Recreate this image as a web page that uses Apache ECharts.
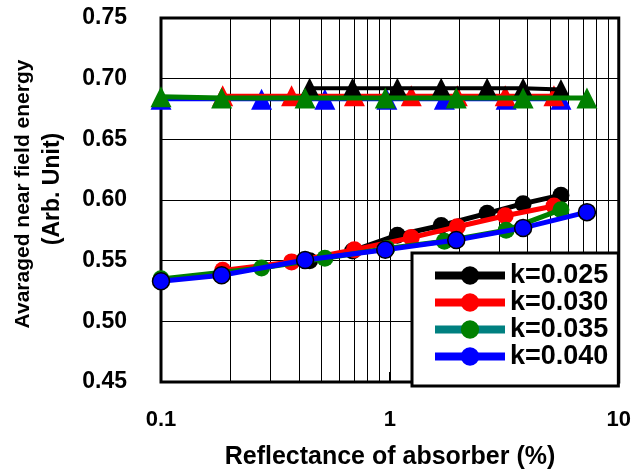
<!DOCTYPE html>
<html><head><meta charset="utf-8">
<script src="https://cdn.jsdelivr.net/npm/echarts@6/dist/echarts.min.js"></script>
<style>html,body{margin:0;padding:0;background:#fff}#c{width:634px;height:469px}</style>
</head><body><div id="c"></div>
<script>
// ---- data ----
const seriesNames = ['k=0.025', 'k=0.030', 'k=0.035', 'k=0.040'];
const xTickLabels = ['0.1', '1', '10'];
const yTickValues = [0.45, 0.50, 0.55, 0.60, 0.65, 0.70, 0.75];

// lower (circle) curves
const xK025 = [0.446, 0.687, 1.078, 1.676, 2.66, 3.82, 5.59];
const lowK025 = [0.550, 0.558, 0.571, 0.579, 0.589, 0.597, 0.604];
const xK030 = [0.186, 0.372, 0.70, 1.24, 1.97, 3.19, 5.21];
const lowK030 = [0.542, 0.549, 0.559, 0.569, 0.578, 0.587, 0.595];
const xK035 = [0.1, 0.275, 0.52, 0.97, 1.73, 3.22, 5.59];
const lowK035 = [0.535, 0.544, 0.552, 0.560, 0.566, 0.575, 0.592];
const xK040 = [0.1, 0.184, 0.426, 0.955, 1.95, 3.82, 7.26];
const lowK040 = [0.533, 0.538, 0.5505, 0.559, 0.567, 0.577, 0.590];

// upper (triangle) curves, as coloured in the reference
const highBlack = [0.692, 0.692, 0.692, 0.692, 0.692, 0.692, 0.691];
const highRed = [0.686, 0.686, 0.686, 0.686, 0.686, 0.686, 0.686];
const xGreenTri = xK040;
const highGreen = [0.685, 0.684, 0.684, 0.684, 0.684, 0.684, 0.684];
const xBlueTri = xK035;
const highBlue = [0.683, 0.683, 0.683, 0.683, 0.683, 0.683, 0.683];

const minorGridX = [0.2, 0.3, 0.4, 0.5, 0.6, 0.7, 0.8, 0.9, 2, 3, 4, 5, 6, 7, 8, 9];

// ---- chart ----
const F = '"Liberation Sans", Arial, sans-serif';
function pairs(xs, ys) { return xs.map((x, i) => [x, ys[i]]); }
const chart = echarts.init(document.getElementById('c'), null, { renderer: 'canvas' });

function lineSeries(name, xs, ys, color, symbol, size, width, z, extra) {
  return Object.assign({
    name: name, type: 'line', data: pairs(xs, ys), z: z,
    symbol: symbol, symbolSize: size, showSymbol: true,
    lineStyle: { color: color, width: width },
    itemStyle: { color: color },
    emphasis: { disabled: true }, silent: true, animation: false
  }, extra || {});
}

const option = {
  animation: false,
  grid: { left: 161, right: 14, top: 18, bottom: 87, show: true, borderColor: '#000', borderWidth: 3, backgroundColor: '#fff' },
  xAxis: {
    type: 'log', logBase: 10, min: 0.1, max: 10,
    axisLine: { show: false },
    axisTick: { show: true, inside: true, length: 10, lineStyle: { color: '#000', width: 2 } },
    axisLabel: {
      color: '#000', fontSize: 22, fontWeight: 'bold', fontFamily: F, margin: 27,
      formatter: function (v) { const i = Math.round(Math.log10(v)) + 1; return xTickLabels[i] || ''; }
    },
    splitLine: { show: true, lineStyle: { color: '#000', width: 1 } }
  },
  yAxis: {
    type: 'value', min: 0.45, max: 0.75, interval: 0.05,
    axisLine: { show: false }, axisTick: { show: false },
    axisLabel: { color: '#000', fontSize: 23, fontWeight: 'bold', fontFamily: F, margin: 34,
      formatter: function (v) { return v.toFixed(2); } },
    splitLine: { show: true, lineStyle: { color: '#000', width: 1 } }
  },
  legend: {
    data: [
      { name: seriesNames[0] },
      { name: seriesNames[1] },
      { name: seriesNames[2], lineStyle: { color: '#008080' } },
      { name: seriesNames[3] }
    ],
    orient: 'vertical', left: 412, top: 253,
    padding: [9, 10, 16, 19], itemWidth: 70, itemHeight: 23, itemGap: 0, itemTextGap: 10,
    backgroundColor: '#fff', borderColor: '#000', borderWidth: 3,
    textStyle: { fontSize: 27, fontWeight: 'bold', color: '#000', fontFamily: F, lineHeight: 24 },
    lineStyle: { width: 8 }, itemStyle: { borderWidth: 0 },
    selectedMode: false
  },
  graphic: [
    { type: 'text', x: 23, y: 194, rotation: Math.PI / 2,
      style: { text: 'Avaraged near field energy', fontSize: 21, fontWeight: 'bold', fontFamily: F, fill: '#000', align: 'center', verticalAlign: 'middle' } },
    { type: 'text', x: 53, y: 189, rotation: Math.PI / 2,
      style: { text: '(Arb. Unit)', fontSize: 23, fontWeight: 'bold', fontFamily: F, fill: '#000', align: 'center', verticalAlign: 'middle' } },
    { type: 'text', x: 390, y: 457,
      style: { text: 'Reflectance of absorber (%)', fontSize: 25, fontWeight: 'bold', fontFamily: F, fill: '#000', align: 'center', verticalAlign: 'middle' } }
  ],
  series: [
    lineSeries('blueTri', xBlueTri, highBlue, '#0000ff', 'triangle', 21, 4, 2, {
      markLine: { silent: true, symbol: ['none', 'none'], z: 1, animation: false,
        lineStyle: { color: '#000', width: 1, type: 'solid' }, label: { show: false },
        emphasis: { disabled: true },
        data: minorGridX.map(v => ({ xAxis: v })) }
    }),
    lineSeries('redTri', xK030, highRed, '#ff0000', 'triangle', 21, 4, 3),
    lineSeries('blackTri', xK025, highBlack, '#000000', 'triangle', 21, 4, 4),
    lineSeries('greenTri', xGreenTri, highGreen, '#008000', 'triangle', 21, 5, 5),
    lineSeries(seriesNames[0], xK025, lowK025, '#000000', 'circle', 17, 5, 6),
    lineSeries(seriesNames[1], xK030, lowK030, '#ff0000', 'circle', 17, 5, 7),
    lineSeries(seriesNames[2], xK035, lowK035, '#008000', 'circle', 17, 5, 8),
    lineSeries(seriesNames[3], xK040, lowK040, '#0000ff', 'circle', 17, 5, 9,
      { itemStyle: { color: '#0000ff', borderColor: '#000', borderWidth: 1.5 } })
  ]
};
chart.setOption(option);
</script>
</body></html>
